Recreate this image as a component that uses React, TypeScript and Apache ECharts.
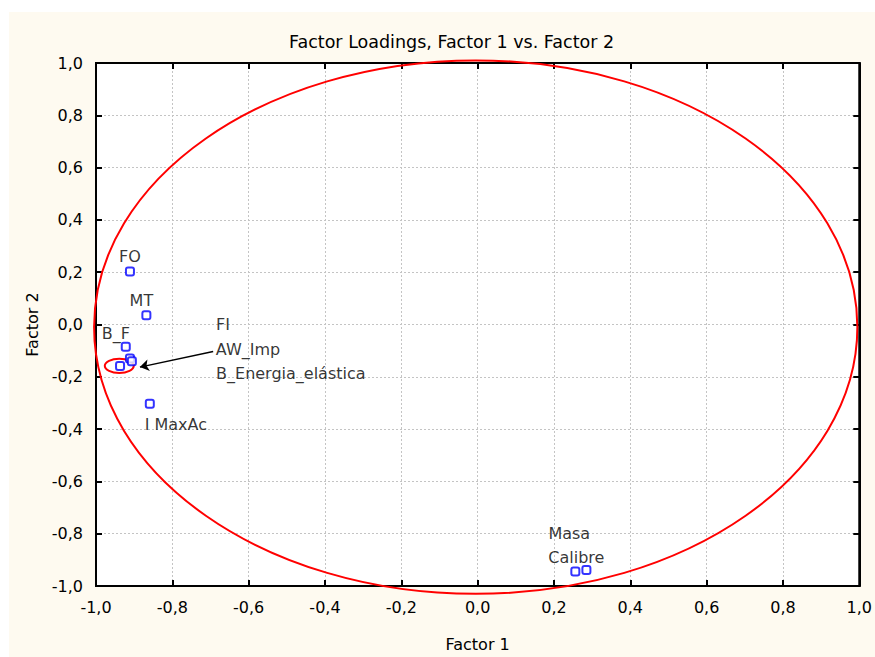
import React, { useEffect, useRef } from 'react';
import * as echarts from 'echarts';

// ---- data ----
const variableNames = ['FO', 'MT', 'B_F', 'FI', 'AW_Imp', 'B_Energia_elástica', 'I MaxAc', 'Masa', 'Calibre'];
const factor1Loadings = [-0.911, -0.868, -0.922, -0.911, -0.906, -0.937, -0.859, 0.285, 0.256];
const factor2Loadings = [0.203, 0.035, -0.085, -0.130, -0.141, -0.159, -0.303, -0.939, -0.945];
const axisMin = -1;
const axisMax = 1;
const tickStep = 0.2;
// ellipses: [centerX, centerY, radiusX, radiusY] in data units
const unitEllipse = [-0.005, -0.01, 1.0, 1.02];
const clusterEllipse = [-0.939, -0.158, 0.038, 0.027];
const arrowStart = [-0.693, -0.103];
const arrowEnd = [-0.885, -0.163];

// ---- label placement (pixel offsets from each point) ----
const labelLayout: Record<string, { offset: [number, number]; align: string }> = {
  FO: { offset: [0, -15], align: 'center' },
  MT: { offset: [-5, -15], align: 'center' },
  B_F: { offset: [-10, -13], align: 'center' },
  FI: { offset: [86, -34], align: 'left' },
  AW_Imp: { offset: [84, -12], align: 'left' },
  B_Energia_elástica: { offset: [96, 7], align: 'left' },
  'I MaxAc': { offset: [26, 21], align: 'center' },
  Masa: { offset: [-38, -37], align: 'left' },
  Calibre: { offset: [-27, -14], align: 'left' },
};

const FONT = 'DejaVu Sans';
const fmt = (v: number) => v.toFixed(1).replace('.', ',');

export default function App() {
  const ref = useRef<HTMLDivElement>(null);
  useEffect(() => {
    if (!ref.current) return;
    const chart = echarts.init(ref.current, undefined, { renderer: 'svg' });
    const tick = { show: true, inside: true, length: 6, lineStyle: { color: '#000', width: 2 } };
    const frameLine = { show: true, onZero: false, lineStyle: { color: '#000', width: 2 } };
    const grey = { show: true, lineStyle: { color: '#c4c4c4', width: 1, type: [2, 2] as any } };
    const nameStyle = { fontFamily: FONT, fontSize: 16, color: '#000' };
    const scatterData = variableNames.map((n, i) => ({
      name: n,
      value: [factor1Loadings[i], factor2Loadings[i]],
      label: {
        show: true,
        position: 'inside',
        offset: labelLayout[n].offset,
        align: labelLayout[n].align,
        verticalAlign: 'middle',
        formatter: n,
        fontFamily: FONT,
        fontSize: 16,
        color: '#000',
      },
    }));
    const option: any = {
      animation: false,
      backgroundColor: '#ffffff',
      textStyle: { fontFamily: FONT },
      title: {
        text: 'Factor Loadings, Factor 1 vs. Factor 2',
        left: 284,
        top: 28,
        textStyle: { fontFamily: FONT, fontSize: 17.5, fontWeight: 'normal', color: '#000' },
      },
      graphic: [
        {
          type: 'rect',
          z: -100,
          silent: true,
          shape: { x: 9, y: 12, width: 866, height: 645 },
          style: { fill: '#fefaf0' },
        },
      ],
      grid: {
        left: 96,
        right: 13,
        top: 63,
        bottom: 70,
        show: true,
        backgroundColor: '#ffffff',
        borderColor: '#000',
        borderWidth: 2,
      },
      xAxis: [
        {
          type: 'value',
          min: axisMin,
          max: axisMax,
          interval: tickStep,
          position: 'bottom',
          name: 'Factor 1',
          nameLocation: 'middle',
          nameGap: 50,
          nameTextStyle: nameStyle,
          axisLine: frameLine,
          axisTick: tick,
          axisLabel: { formatter: fmt, margin: 13, fontFamily: FONT, fontSize: 16, color: '#000' },
          splitLine: grey,
        },
        {
          type: 'value',
          min: axisMin,
          max: axisMax,
          interval: tickStep,
          position: 'top',
          axisLine: frameLine,
          axisTick: tick,
          axisLabel: { show: false },
          splitLine: { show: false },
        },
      ],
      yAxis: [
        {
          type: 'value',
          min: axisMin,
          max: axisMax,
          interval: tickStep,
          position: 'left',
          name: 'Factor 2',
          nameLocation: 'middle',
          nameGap: 49,
          nameTextStyle: nameStyle,
          axisLine: frameLine,
          axisTick: tick,
          axisLabel: { formatter: fmt, margin: 13, fontFamily: FONT, fontSize: 16, color: '#000' },
          splitLine: grey,
        },
        {
          type: 'value',
          min: axisMin,
          max: axisMax,
          interval: tickStep,
          position: 'right',
          axisLine: frameLine,
          axisTick: tick,
          axisLabel: { show: false },
          splitLine: { show: false },
        },
      ],
      series: [
        {
          type: 'custom',
          coordinateSystem: 'cartesian2d',
          silent: true,
          clip: false,
          z: 3,
          encode: { x: 0, y: 1 },
          data: [unitEllipse, clusterEllipse],
          renderItem: (_p: any, api: any) => {
            const c = api.coord([api.value(0), api.value(1)]);
            const s = api.size([api.value(2), api.value(3)]);
            return {
              type: 'ellipse',
              shape: { cx: c[0], cy: c[1], rx: s[0], ry: s[1] },
              style: { fill: 'none', stroke: '#ff0000', lineWidth: 2 },
            };
          },
        },
        {
          type: 'scatter',
          z: 5,
          symbol: 'roundRect',
          symbolSize: 8,
          itemStyle: { color: '#ffffff', borderColor: '#0000ff', borderWidth: 2 },
          data: scatterData,
          markLine: {
            silent: true,
            symbol: ['none', 'arrow'],
            symbolSize: 9,
            label: { show: false },
            lineStyle: { color: '#000', width: 1.5, type: 'solid' },
            data: [[{ coord: arrowStart }, { coord: arrowEnd }]],
          },
        },
      ],
    };
    chart.setOption(option);
    return () => chart.dispose();
  }, []);
  return <div ref={ref} style={{ position: 'absolute', left: 0, top: 0, width: 875, height: 657 }} />;
}
